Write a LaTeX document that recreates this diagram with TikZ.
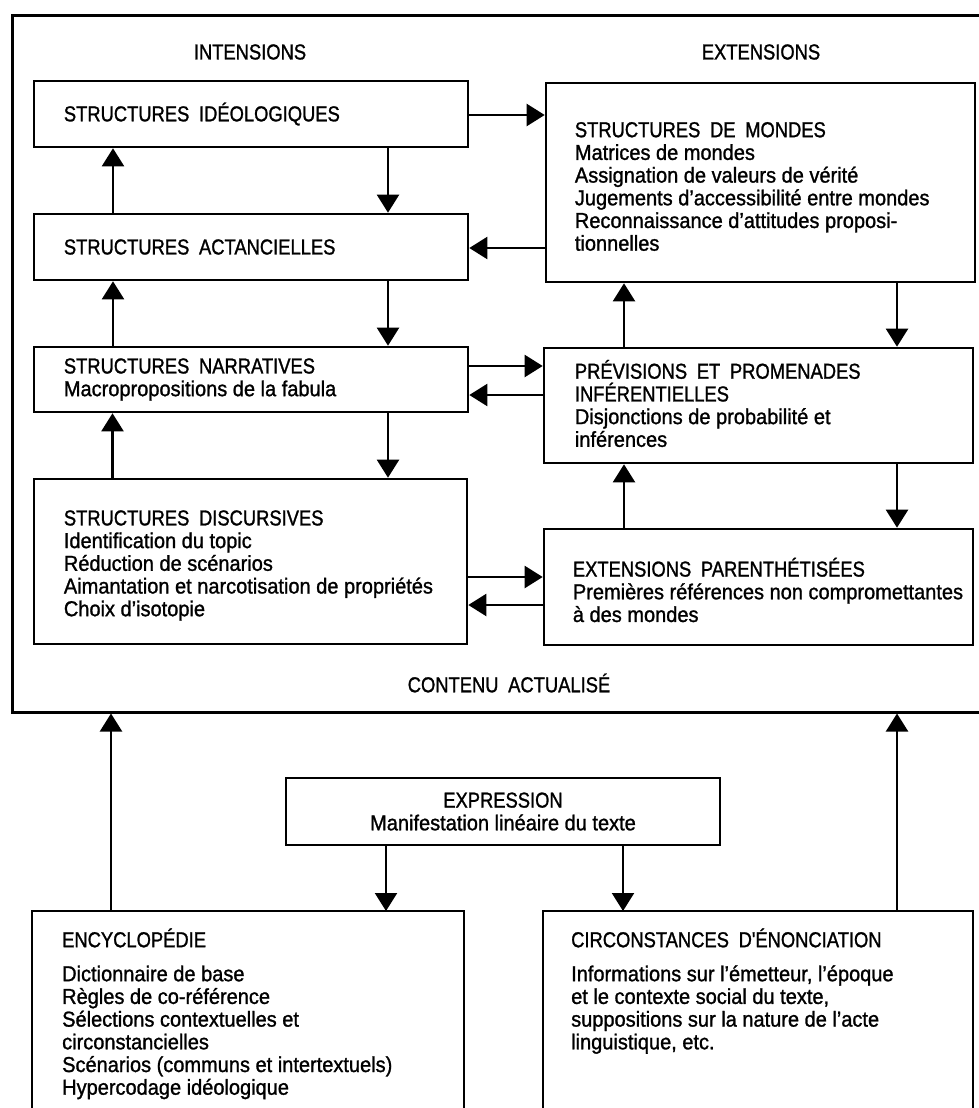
\documentclass[tikz,border=0pt]{standalone}
\usepackage{fontspec}
\setmainfont{Liberation Sans}[FakeStretch=0.926,FakeBold=1.2]
\newfontfamily\capsfont{Liberation Sans}[FakeStretch=0.85,FakeBold=1.2,WordSpace=1.9]
\usetikzlibrary{arrows.meta,calc}
\newcommand{\hd}[1]{{\capsfont #1}}
\begin{document}
\setlength{\lineskiplimit}{-30pt}
\begin{tikzpicture}[x=1pt,y=-1pt,
  txt/.style={font=\fontsize{21.6}{22.7}\selectfont, align=left, inner sep=0pt},
  box/.style={draw, line width=2.6pt, inner sep=0pt},
  openbox/.style={inner sep=0pt, outer sep=0pt},
  boxline/.style={line width=2.6pt},
  frameline/.style={line width=3pt},
  arr/.style={line width=2.2pt, -{Triangle[length=18pt,width=22pt]}},
]
\useasboundingbox (0,0) rectangle (979,1108);

% outer frame (open on the right)
\coordinate (FTR) at (979,16);
\coordinate (FTL) at (12,16);
\coordinate (FBL) at (12,712);
\coordinate (FBR) at (979,712);
\draw[frameline] (FTR) -- (FTL) -- (FBL) -- (FBR);

\node[txt] (INT) at (250,52) {\hd{INTENSIONS}};
\node[txt] (EXT) at (761,52) {\hd{EXTENSIONS}};
\node[txt] (CA) at (509,683) {\hd{CONTENU ACTUALISÉ}};

% left column
\node[box, minimum width=434pt, minimum height=66pt] (SI) at (251,114) {};
\node[txt, anchor=west] (SIt) at ([xshift=31pt]SI.west) {\hd{STRUCTURES IDÉOLOGIQUES}};

\node[box, minimum width=434pt, minimum height=66pt] (SA) at (251,247) {};
\node[txt, anchor=west] (SAt) at ([xshift=31pt]SA.west) {\hd{STRUCTURES ACTANCIELLES}};

\node[box, minimum width=434pt, minimum height=65pt] (SN) at (251,379.5) {};
\node[txt, anchor=west] (SNt) at ([xshift=31pt]SN.west) {\hd{STRUCTURES NARRATIVES}\\Macropropositions de la fabula};

\node[box, minimum width=433pt, minimum height=165pt] (SD) at (250.5,561.5) {};
\node[txt, anchor=west] (SDt) at ([xshift=31pt,yshift=-4pt]SD.west) {\hd{STRUCTURES DISCURSIVES}\\Identification du topic\\Réduction de scénarios\\Aimantation et narcotisation de propriétés\\Choix d'isotopie};

% right column
\node[box, minimum width=429pt, minimum height=199pt] (SM) at (760.5,182.5) {};
\node[txt, anchor=west] (SMt) at ([xshift=30pt,yshift=-4pt]SM.west) {\hd{STRUCTURES DE MONDES}\\Matrices de mondes\\Assignation de valeurs de vérité\\Jugements d'accessibilité entre mondes\\Reconnaissance d'attitudes proposi-\\tionnelles};

\node[box, minimum width=429pt, minimum height=115pt] (PP) at (758.5,405.5) {};
\node[txt, anchor=west] (PPt) at ([xshift=32pt,yshift=2pt]PP.west) {\hd{PRÉVISIONS ET PROMENADES}\\\hd{INFÉRENTIELLES}\\Disjonctions de probabilité et\\inférences};

\node[box, minimum width=429pt, minimum height=116pt] (EP) at (758.5,587) {};
\node[txt, anchor=west] (EPt) at ([xshift=30pt,yshift=-3pt]EP.west) {\hd{EXTENSIONS PARENTHÉTISÉES}\\Premières références non compromettantes\\à des mondes};

% bottom
\node[box, minimum width=434pt, minimum height=67pt] (EXPR) at (503,811.5) {};
\node[txt, align=center] (EXPRt) at (EXPR.center) {\hd{EXPRESSION}\\Manifestation linéaire du texte};

\node[openbox, minimum width=432pt, minimum height=200pt] (ENC) at (248,1011) {};
\draw[boxline] (ENC.south west) -- (ENC.north west) -- (ENC.north east) -- (ENC.south east);
\node[txt, anchor=north west] (ENCt) at ([xshift=30pt,yshift=-16pt]ENC.north west) {\rule{0pt}{20pt}\hd{ENCYCLOPÉDIE}\\[11.3pt]Dictionnaire de base\\Règles de co-référence\\Sélections contextuelles et\\circonstancielles\\Scénarios (communs et intertextuels)\\Hypercodage idéologique};

\node[openbox, minimum width=430pt, minimum height=200pt] (CIRC) at (758,1011) {};
\draw[boxline] (CIRC.south west) -- (CIRC.north west) -- (CIRC.north east) -- (CIRC.south east);
\node[txt, anchor=north west] (CIRCt) at ([xshift=28pt,yshift=-16pt]CIRC.north west) {\rule{0pt}{20pt}\hd{CIRCONSTANCES D'ÉNONCIATION}\\[11.3pt]Informations sur l'émetteur, l'époque\\et le contexte social du texte,\\suppositions sur la nature de l'acte\\linguistique, etc.};

% vertical arrows, left column
\draw[arr] ([xshift=137pt]SI.south) -- ([xshift=137pt]SI.south |- SA.north);
\draw[arr] ([xshift=137pt]SA.south) -- ([xshift=137pt]SA.south |- SN.north);
\draw[arr] ([xshift=137pt]SN.south) -- ([xshift=137pt]SN.south |- SD.north);
\draw[arr] ([xshift=-138pt]SA.north) -- ([xshift=-138pt]SA.north |- SI.south);
\draw[arr] ([xshift=-138pt]SN.north) -- ([xshift=-138pt]SN.north |- SA.south);
\draw[arr] ([xshift=-138pt]SD.north) -- ([xshift=-138pt]SD.north |- SN.south);

% vertical arrows, right column
\draw[arr] ([xshift=138.5pt]SM.south -| PP.center) -- ([xshift=138.5pt]PP.north);
\draw[arr] ([xshift=138.5pt]PP.south) -- ([xshift=138.5pt]PP.south |- EP.north);
\draw[arr] ([xshift=-134.5pt]PP.north) -- ([xshift=-134.5pt]PP.north |- SM.south);
\draw[arr] ([xshift=-134.5pt]EP.north) -- ([xshift=-134.5pt]EP.north |- PP.south);

% horizontal arrows
\draw[arr] ([yshift=-1pt]SI.east) -- ([yshift=-1pt]SI.east -| SM.west);
\draw[arr] ([yshift=-1pt]SA.east -| SM.west) -- ([yshift=-1pt]SA.east);
\draw[arr] ([yshift=13.5pt]SN.east) -- ([yshift=13.5pt]SN.east -| PP.west);
\draw[arr] ([yshift=-15.5pt]SN.east -| PP.west) -- ([yshift=-15.5pt]SN.east);
\draw[arr] ([yshift=10pt]EP.west -| SD.east) -- ([yshift=10pt]EP.west);
\draw[arr] ([yshift=-18pt]EP.west) -- ([yshift=-18pt]EP.west -| SD.east);

% bottom arrows
\draw[arr] ([xshift=-117pt]EXPR.south) -- ([xshift=-117pt]EXPR.south |- ENC.north);
\draw[arr] ([xshift=120pt]EXPR.south) -- ([xshift=120pt]EXPR.south |- CIRC.north);
\draw[arr] ([xshift=-137pt]ENC.north) -- ([xshift=-137pt,yshift=-1.5pt]ENC.north |- FBL);
\draw[arr] ([xshift=139pt]CIRC.north) -- ([xshift=139pt,yshift=-1.5pt]CIRC.north |- FBR);
\end{tikzpicture}
\end{document}
